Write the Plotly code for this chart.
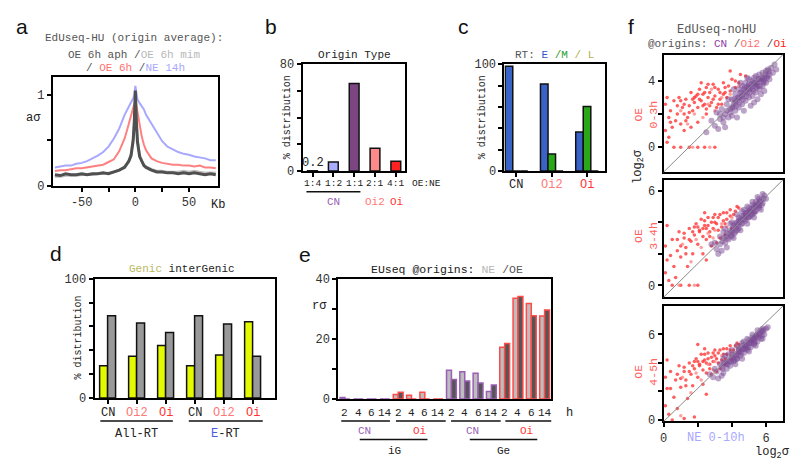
import plotly.graph_objects as go

W, H = 800, 475
MONO = "Liberation Mono, Courier New, monospace"
SANS = "Liberation Sans, Arial, sans-serif"

# ---------------- data ----------------
# a: EdUseq-HU origin average profiles
a_kb = [-75, -70, -65, -60, -55, -50, -45, -40, -35, -30, -25, -20, -15, -10, -8, -6, -4, -2, -1, 0,
        1, 2, 4, 6, 8, 10, 15, 20, 25, 30, 35, 40, 45, 50, 55, 60, 65, 70, 75]
a_ne14 = [0.20, 0.21, 0.22, 0.22, 0.24, 0.25, 0.27, 0.30, 0.33, 0.37, 0.43, 0.52, 0.63, 0.78, 0.83, 0.88, 0.92, 0.96, 1.00, 1.10,
          1.00, 0.95, 0.91, 0.88, 0.84, 0.78, 0.68, 0.58, 0.49, 0.43, 0.40, 0.37, 0.35, 0.34, 0.32, 0.31, 0.30, 0.28, 0.28]
a_oe6 = [0.16, 0.17, 0.17, 0.18, 0.19, 0.19, 0.20, 0.21, 0.22, 0.23, 0.26, 0.29, 0.38, 0.52, 0.60, 0.68, 0.78, 0.86, 0.90, 0.95,
         0.88, 0.80, 0.66, 0.54, 0.45, 0.39, 0.30, 0.27, 0.25, 0.24, 0.23, 0.23, 0.22, 0.22, 0.21, 0.22, 0.20, 0.20, 0.19]
a_mim = [0.10, 0.10, 0.11, 0.11, 0.11, 0.12, 0.12, 0.12, 0.13, 0.13, 0.14, 0.15, 0.17, 0.21, 0.24, 0.28, 0.35, 0.52, 0.68, 0.95,
         0.68, 0.50, 0.34, 0.27, 0.23, 0.21, 0.18, 0.16, 0.16, 0.15, 0.15, 0.15, 0.16, 0.15, 0.16, 0.15, 0.14, 0.14, 0.14]
a_aph = [0.12, 0.11, 0.13, 0.12, 0.12, 0.13, 0.12, 0.13, 0.13, 0.14, 0.13, 0.15, 0.17, 0.20, 0.23, 0.27, 0.33, 0.50, 0.70, 1.05,
         0.70, 0.48, 0.32, 0.26, 0.22, 0.20, 0.17, 0.15, 0.15, 0.14, 0.14, 0.13, 0.14, 0.13, 0.14, 0.13, 0.12, 0.13, 0.12]

# b: origin type
b_types = ["1:4", "1:2", "1:1", "2:1", "4:1"]
b_pct = [0.2, 6.8, 65.5, 17.0, 7.3]

# c: replication timing
c_groups = ["CN", "Oi2", "Oi"]
c_E = [98, 81.5, 36.5]
c_M = [0, 16, 60.5]
c_L = [0, 0, 0]

# d: genic / intergenic
d_groups = ["CN", "Oi2", "Oi", "CN", "Oi2", "Oi"]
d_genic = [27, 35, 44, 27, 36, 64]
d_inter = [69, 63, 55, 69, 62, 35]
d_sets = ["All-RT", "E-RT"]

# e: EUseq at origins
e_hours = ["2", "4", "6", "14"] * 4
e_origin = ["CN"] * 4 + ["Oi"] * 4 + ["CN"] * 4 + ["Oi"] * 4
e_region = ["iG", "Ge"]
e_ne = [0.5, 0, 0, 0, 1.5, 1.3, 2.3, 0, 9.6, 9.1, 8.6, 2.5, 17.2, 33.5, 31.8, 27.6]
e_oe = [0, 0, 0, 0, 2.3, 0, 0, 0, 6.5, 6.0, 5.3, 4.7, 18.5, 34.1, 27.7, 29.6]

# f: scatter (x = NE 0-10h log2 sigma, y = OE log2 sigma)
f1_cn_x = [3.0, 3.2, 3.3, 3.5, 3.6, 3.8, 3.9, 4.0, 4.1, 4.2, 4.3, 4.4, 4.5, 4.6, 4.7, 4.8, 4.9, 5.0, 5.1, 5.2, 5.3, 5.4, 5.5, 5.6, 5.7, 5.8, 5.9, 6.0, 6.1, 6.2, 6.4,
           3.4, 3.7, 4.0, 4.2, 4.4, 4.6, 4.8, 5.0, 5.2, 5.4, 5.6, 5.8, 6.0, 6.3, 4.1, 4.5, 4.9, 5.3, 5.7, 3.6, 4.3, 4.7, 5.1, 5.5, 5.9, 2.8, 3.1, 6.6, 5.0,
           4.5, 5.5, 4.2, 4.8, 5.3, 3.8, 2.5, 6.5,
           4.05, 4.15, 4.25, 4.35, 4.45, 4.55, 4.65, 4.75, 4.85, 4.95, 5.05, 5.15, 5.25, 5.35, 5.45, 5.55, 5.65, 5.75, 5.85, 5.95,
           6.05, 6.15, 4.4, 4.7, 5.0, 5.3, 5.6, 5.9, 6.2, 3.5, 3.9, 4.6, 5.2, 5.8, 3.3, 3.7, 4.9, 5.4, 6.1, 4.0]
f1_cn_y = [1.3, 1.1, 1.7, 1.5, 2.0, 1.8, 2.3, 1.9, 2.6, 2.2, 2.8, 2.4, 3.0, 2.6, 3.2, 2.8, 3.3, 3.0, 3.6, 3.1, 3.7, 3.3, 3.9, 3.5, 4.0, 3.7, 4.2, 3.9, 4.3, 4.1, 4.5,
           2.3, 2.6, 2.9, 3.2, 3.5, 3.7, 3.9, 4.1, 4.0, 4.3, 4.4, 4.5, 4.6, 4.8, 3.5, 3.9, 4.2, 2.7, 3.2, 1.2, 1.8, 2.2, 2.5, 2.9, 3.4, 1.6, 2.1, 4.7, 3.5,
           3.3, 3.7, 2.7, 3.4, 4.2, 2.9, 0.9, 5.0,
           2.4, 2.9, 2.5, 3.0, 2.7, 3.3, 2.9, 3.6, 3.1, 3.7, 3.3, 3.8, 3.4, 3.9, 3.6, 4.1, 3.7, 4.2, 3.9, 4.4,
           4.2, 4.6, 3.0, 3.5, 3.8, 3.9, 4.1, 4.0, 4.4, 1.8, 2.1, 3.1, 3.5, 4.1, 2.0, 2.2, 3.6, 3.8, 4.7, 2.4]
f1_oi_x = [0.1, 0.1, 0.2, 0.3, 0.4, 0.5, 0.6, 0.7, 0.8, 0.9, 1.0, 1.1, 1.2, 1.3, 1.4, 1.5, 1.6, 1.7, 1.8, 1.9, 2.0, 2.1, 2.2, 2.3, 2.4, 2.5, 2.6, 2.7, 2.8, 2.9,
           3.0, 3.2, 3.3, 3.5, 3.6, 3.8, 4.0, 4.2, 4.5, 4.8, 1.0, 1.5, 2.0, 2.4, 0.6, 3.0, 0.3, 1.2, 2.0, 2.5, 3.1, 3.4, 1.6, 0.2, 2.2, 3.9,
           1.2, 1.5, 1.8, 2.1, 2.4, 2.7, 3.0, 3.3, 3.6, 3.9, 4.2, 2.0, 2.6, 3.2, 3.7, 1.0, 1.7, 2.3, 2.9, 3.5, 0.4, 0.8, 4.4, 1.3, 2.5]
f1_oi_y = [1.0, 2.6, 0.3, 1.8, 2.2, 1.2, 2.8, 1.6, 2.0, 3.0, 1.4, 2.4, 2.0, 2.9, 1.8, 2.5, 3.3, 2.2, 2.7, 3.1, 2.4, 3.5, 2.8, 3.2, 2.6, 3.6, 3.0, 3.3, 2.7, 3.8,
           3.1, 3.5, 2.9, 3.9, 3.3, 3.7, 4.1, 3.6, 4.4, 4.3, 0.0, 0.0, 0.0, 0.0, 0.0, 0.0, 0.6, 1.0, 1.5, 2.0, 2.4, 2.6, 1.2, 3.0, 3.9, 4.6,
           2.6, 2.1, 3.0, 2.9, 3.3, 2.5, 3.6, 3.3, 3.6, 3.4, 4.0, 3.2, 3.8, 2.6, 3.0, 2.8, 2.9, 2.5, 2.9, 3.2, 1.5, 2.5, 3.9, 1.6, 2.3]
f1_oi2_x = [1.0, 1.8, 2.6, 3.4, 3.9, 4.4, 2.3, 3.0, 1.4, 2.8, 1.7, 2.7]
f1_oi2_y = [2.2, 2.0, 2.6, 3.0, 3.2, 3.7, 1.8, 2.2, 1.4, 3.5, 0.0, 0.0]

f2_cn_x = [3.1, 3.3, 3.4, 3.5, 3.6, 3.7, 3.8, 3.9, 4.0, 4.1, 4.2, 4.3, 4.4, 4.5, 4.6, 4.7, 4.8, 4.9, 5.0, 5.1, 5.2, 5.3, 5.4, 5.5, 5.6, 5.7, 5.8, 5.9,
           3.6, 4.0, 4.3, 4.6, 4.9, 5.2, 5.5, 4.1, 4.5, 4.9, 5.3, 5.7, 3.3, 3.0, 6.0, 4.4, 4.8, 5.1, 5.4, 3.9, 4.2, 5.0, 2.8, 3.2, 5.6, 4.7, 3.7,
           3.45, 3.65, 3.85, 4.05, 4.25, 4.45, 4.65, 4.85, 5.05, 5.25, 5.45, 5.65, 5.85, 4.15, 4.35, 4.55, 4.75, 4.95,
           5.15, 5.35, 5.55, 5.75, 3.75, 3.95, 4.6, 5.0, 5.4, 5.8, 3.5, 4.3, 4.8, 5.2, 5.6, 4.0, 4.4, 5.3]
f2_cn_y = [2.3, 2.6, 2.2, 3.0, 2.7, 3.3, 2.9, 3.5, 3.1, 3.8, 3.4, 4.0, 3.6, 4.2, 3.9, 4.4, 4.1, 4.6, 4.3, 4.8, 4.5, 5.0, 4.7, 5.2, 4.9, 5.4, 5.2, 5.7,
           3.6, 4.0, 4.5, 4.7, 5.0, 5.3, 5.6, 3.0, 3.5, 3.9, 4.3, 4.8, 3.1, 2.7, 5.5, 4.3, 4.5, 4.4, 5.0, 3.9, 3.9, 4.7, 2.6, 2.0, 5.5, 4.8, 2.4,
           2.8, 3.1, 3.3, 3.6, 3.7, 4.0, 4.2, 4.4, 4.7, 4.9, 5.1, 5.3, 5.5, 3.3, 3.8, 3.9, 4.2, 4.3,
           4.6, 4.7, 5.0, 5.1, 3.0, 3.2, 4.4, 4.9, 5.3, 5.8, 3.4, 3.5, 4.6, 5.1, 5.1, 3.4, 4.1, 4.6]
f2_oi_x = [0.1, 0.1, 0.2, 0.3, 0.5, 0.6, 0.8, 0.9, 1.0, 1.2, 1.3, 1.5, 1.6, 1.8, 1.9, 2.0, 2.1, 2.2, 2.3, 2.4, 2.5, 2.6, 2.7, 2.8, 2.9, 3.0, 3.1, 3.2,
           3.4, 3.5, 3.7, 3.9, 4.1, 4.3, 0.5, 1.0, 1.5, 2.0, 2.5, 1.4, 0.7, 2.3, 3.3, 1.7, 2.8, 3.6, 4.0, 0.2, 2.4, 3.1,
           1.2, 1.5, 1.8, 2.1, 2.4, 2.7, 3.0, 3.3, 3.6, 3.9, 4.2, 2.0, 2.6, 3.2, 3.7, 1.0, 1.7, 2.3, 2.9, 3.5, 0.4, 0.8, 4.4, 1.3, 2.5]
f2_oi_y = [0.8, 2.5, 1.6, 0.3, 2.9, 1.2, 2.2, 3.4, 1.8, 3.0, 2.4, 3.6, 2.8, 3.2, 3.9, 2.6, 3.5, 4.2, 3.1, 3.8, 2.9, 4.3, 3.4, 4.0, 3.6, 4.5, 3.9, 4.3,
           3.7, 4.6, 4.2, 4.8, 4.5, 5.0, 0.0, 0.0, 0.0, 0.0, 1.6, 1.2, 0.5, 2.0, 3.0, 2.0, 2.5, 3.2, 3.6, 3.8, 4.6, 2.7,
           3.3, 2.9, 3.7, 3.4, 4.1, 3.1, 4.0, 4.5, 3.9, 4.4, 4.7, 3.7, 3.8, 3.5, 4.6, 2.5, 3.4, 3.6, 4.3, 4.1, 1.9, 2.9, 4.9, 2.0, 3.6]
f2_oi2_x = [1.1, 1.9, 2.6, 3.4, 4.0, 2.2, 2.9, 1.6, 3.7, 0.9, 1.8, 3.0]
f2_oi2_y = [2.6, 2.9, 3.3, 3.9, 4.3, 2.4, 3.0, 1.5, 3.7, 0.0, 0.0, 3.5]

f3_cn_x = [2.9, 3.1, 3.2, 3.4, 3.5, 3.6, 3.7, 3.8, 3.9, 4.0, 4.1, 4.2, 4.3, 4.4, 4.5, 4.6, 4.7, 4.8, 4.9, 5.0, 5.1, 5.2, 5.3, 5.4, 5.5, 5.6, 5.7, 5.8, 5.9, 6.0,
           3.6, 4.0, 4.3, 4.6, 4.9, 5.2, 5.5, 4.2, 4.6, 5.0, 5.4, 5.8, 3.3, 3.0, 6.1, 4.4, 4.8, 5.1, 5.3, 3.8, 2.7, 3.4, 5.7, 4.7, 3.5,
           3.45, 3.65, 3.85, 4.05, 4.25, 4.45, 4.65, 4.85, 5.05, 5.25, 5.45, 5.65, 5.85, 4.15, 4.35, 4.55, 4.75, 4.95,
           5.15, 5.35, 5.55, 5.75, 3.75, 3.95, 4.6, 5.0, 5.4, 5.8, 3.5, 4.3, 4.8, 5.2, 5.6, 4.0, 4.4, 5.3]
f3_cn_y = [3.0, 3.4, 2.9, 3.7, 3.3, 4.0, 3.6, 4.2, 3.8, 4.4, 4.1, 4.6, 4.3, 4.8, 4.5, 5.0, 4.7, 5.2, 4.9, 5.4, 5.1, 5.6, 5.3, 5.8, 5.5, 6.0, 5.7, 6.2, 6.0, 6.4,
           4.5, 4.9, 5.2, 5.4, 5.7, 6.0, 6.3, 3.9, 4.3, 4.8, 5.2, 5.7, 3.9, 3.6, 6.5, 5.0, 5.0, 5.5, 5.7, 4.6, 3.2, 3.1, 6.3, 5.5, 4.3,
           3.6, 3.9, 4.1, 4.3, 4.5, 4.8, 5.0, 5.2, 5.4, 5.7, 5.9, 6.1, 6.3, 4.2, 4.6, 4.7, 5.0, 5.1,
           5.4, 5.5, 5.8, 5.9, 3.9, 4.1, 5.2, 5.6, 5.9, 6.4, 4.0, 4.3, 5.3, 5.8, 6.0, 4.6, 4.9, 5.4]
f3_oi_x = [0.1, 0.1, 0.2, 0.3, 0.4, 0.6, 0.7, 0.9, 1.0, 1.2, 1.3, 1.5, 1.6, 1.8, 1.9, 2.0, 2.1, 2.2, 2.3, 2.4, 2.5, 2.6, 2.7, 2.8, 2.9, 3.0, 3.1, 3.2,
           3.4, 3.5, 3.7, 3.9, 4.1, 4.3, 0.5, 1.2, 1.8, 2.5, 1.4, 0.8, 2.3, 3.3, 1.7, 2.8, 3.6, 4.0, 0.2, 2.4, 3.1, 2.0,
           1.2, 1.5, 1.8, 2.1, 2.4, 2.7, 3.0, 3.3, 3.6, 3.9, 4.2, 2.0, 2.6, 3.2, 3.7, 1.0, 1.7, 2.3, 2.9, 3.5, 0.4, 0.8, 4.4, 1.3, 2.5]
f3_oi_y = [1.0, 3.0, 2.2, 0.4, 3.4, 1.6, 2.8, 3.8, 2.3, 3.4, 2.8, 4.0, 3.2, 3.6, 4.3, 3.0, 3.9, 4.6, 3.5, 4.2, 3.3, 4.7, 3.9, 4.4, 4.1, 4.9, 4.3, 4.7,
           4.2, 5.0, 4.6, 5.2, 4.9, 5.4, 0.0, 0.1, 0.2, 1.8, 1.5, 0.8, 2.5, 3.6, 2.4, 3.2, 3.9, 4.3, 4.2, 5.0, 3.4, 5.3,
           3.7, 3.4, 4.1, 3.8, 4.6, 3.6, 4.5, 4.9, 4.3, 4.9, 5.2, 4.1, 4.3, 4.0, 5.0, 2.9, 3.8, 4.1, 4.7, 4.6, 2.2, 3.2, 5.3, 2.4, 4.0]
f3_oi2_x = [1.1, 1.9, 2.6, 3.4, 4.0, 2.2, 2.9, 1.6, 3.7, 1.0, 3.0, 4.4]
f3_oi2_y = [3.0, 3.3, 3.9, 4.5, 4.7, 2.8, 3.5, 1.9, 4.2, 0.3, 4.1, 5.0]

# ---------------- colours ----------------
DG = "#555555"
LG = "#b8b8b8"
RED_L = "#ff7070"
BLUE_L = "#a8a8ff"
CN_C = "#9a5fb5"
OI2_C = "#ff7878"
OI_C = "#ff3535"
TXT = "#333333"

fig = go.Figure()

# ---- a ----
for ys, col, w in [(a_ne14, BLUE_L, 2), (a_oe6, "#ff8080", 2), (a_mim, "#c0c0c0", 2.5), (a_aph, "#505050", 3)]:
    fig.add_trace(go.Scatter(x=a_kb, y=ys, mode="lines", line=dict(color=col, width=w), xaxis="x", yaxis="y"))

# ---- b ----
b_idx = list(range(len(b_types)))
fig.add_trace(go.Bar(x=b_idx, y=b_pct, width=0.47,
                     marker=dict(color=["#ffffff", "#a9acff", "#7b4682", "#ff8a8a", "#ff2222"],
                                 line=dict(color="#111", width=1.5)),
                     xaxis="x2", yaxis="y2"))

# ---- c ----
c_idx = list(range(len(c_groups)))
for vals, col, off in [(c_E, "#3a63c8", -0.32), (c_M, "#2aa81a", -0.107), (c_L, "#b8b860", 0.107)]:
    fig.add_trace(go.Bar(x=c_idx, y=vals, width=0.215, offset=off,
                         marker=dict(color=col, line=dict(color="#111", width=1.5)),
                         xaxis="x3", yaxis="y3"))

# ---- d ----
d_idx = list(range(len(d_groups)))
for vals, col, off in [(d_genic, "#e4fa00", -0.275), (d_inter, "#999999", 0.0)]:
    fig.add_trace(go.Bar(x=d_idx, y=vals, width=0.275, offset=off,
                         marker=dict(color=col, line=dict(color="#111", width=1.5)),
                         xaxis="x4", yaxis="y4"))

# ---- e ----
e_idx = list(range(len(e_hours)))
e_border = [CN_C if o == "CN" else "#ff4a4a" for o in e_origin]
for vals, col, off in [(e_ne, "#bdbdbd", -0.37), (e_oe, "#555555", 0.0)]:
    fig.add_trace(go.Bar(x=e_idx, y=vals, width=0.37, offset=off,
                         marker=dict(color=col, line=dict(color=e_border, width=1.5)),
                         xaxis="x5", yaxis="y5"))

# ---- f ----
for k, (oix, oiy, o2x, o2y, cnx, cny) in enumerate([
        (f1_oi_x, f1_oi_y, f1_oi2_x, f1_oi2_y, f1_cn_x, f1_cn_y),
        (f2_oi_x, f2_oi_y, f2_oi2_x, f2_oi2_y, f2_cn_x, f2_cn_y),
        (f3_oi_x, f3_oi_y, f3_oi2_x, f3_oi2_y, f3_cn_x, f3_cn_y)]):
    xa, ya = f"x{6 + k}", f"y{6 + k}"
    fig.add_trace(go.Scatter(x=oix, y=oiy, mode="markers", marker=dict(color="#ff2a2a", size=3.5, opacity=0.75),
                             xaxis=xa, yaxis=ya))
    fig.add_trace(go.Scatter(x=o2x, y=o2y, mode="markers", marker=dict(color="#ff8080", size=3.5, opacity=0.75),
                             xaxis=xa, yaxis=ya))
    fig.add_trace(go.Scatter(x=cnx, y=cny, mode="markers", marker=dict(color="#7a4a94", size=6, opacity=0.5),
                             xaxis=xa, yaxis=ya))


# ---------------- axes ----------------
def ax(**kw):
    d = dict(showline=True, linecolor="black", linewidth=2, mirror=True, ticks="outside", ticklen=4,
             tickwidth=1.5, tickcolor="black", showgrid=False, zeroline=False, fixedrange=True,
             tickfont=dict(family=MONO, size=12, color=TXT))
    d.update(kw)
    return d


def xd(a, b):
    return [a / W, b / W]


def yd(top, bot):
    return [1 - bot / H, 1 - top / H]


layout = dict(
    xaxis=ax(domain=xd(49, 215), anchor="y", range=[-77, 77], tickvals=[-50, -25, 0, 25, 50],
             ticktext=["-50", "", "0", "", "50"]),
    yaxis=ax(domain=yd(73, 185), anchor="x", range=[0, 1.2], tickvals=[0, 0.5, 1], ticktext=["0", "", "1"]),
    xaxis2=ax(domain=xd(300, 403), anchor="y2", range=[-0.48, 4.44], tickvals=b_idx, showticklabels=False),
    yaxis2=ax(domain=yd(60, 170), anchor="x2", range=[0, 80], tickvals=[0, 20, 40, 60, 80],
              ticktext=["0", "", "", "", "80"]),
    xaxis3=ax(domain=xd(503, 604), anchor="y3", range=[-0.34, 2.51], tickvals=c_idx, showticklabels=False),
    yaxis3=ax(domain=yd(60, 170), anchor="x3", range=[0, 100], tickvals=[0, 20, 40, 60, 80, 100],
              ticktext=["0", "", "", "", "", "100"]),
    xaxis4=ax(domain=xd(91, 272), anchor="y4", range=[-0.45, 5.76], tickvals=d_idx, showticklabels=False),
    yaxis4=ax(domain=yd(281, 404), anchor="x4", range=[0, 100], tickvals=[0, 20, 40, 60, 80, 100],
              ticktext=["0", "", "", "", "", "100"]),
    xaxis5=ax(domain=xd(336, 550), anchor="y5", range=[-0.5, 15.5], ticks="", showticklabels=False),
    yaxis5=ax(domain=yd(281, 405), anchor="x5", range=[0, 40], tickvals=[0, 10, 20, 30, 40],
              ticktext=["0", "", "20", "", "40"]),
    xaxis6=ax(domain=xd(663, 783), anchor="y6", range=[0, 7], ticks="", showticklabels=False),
    yaxis6=ax(domain=yd(50, 171), anchor="x6", range=[-1.5, 5.6], tickvals=[0, 2, 4], ticktext=["0", "", "4"]),
    xaxis7=ax(domain=xd(663, 783), anchor="y7", range=[0, 7], ticks="", showticklabels=False),
    yaxis7=ax(domain=yd(179, 300), anchor="x7", range=[-0.75, 6.7], tickvals=[0, 2, 4, 6],
              ticktext=["0", "", "", "6"]),
    xaxis8=ax(domain=xd(663, 783), anchor="y8", range=[0, 7], tickvals=[0, 2, 4, 6], ticktext=["0", "", "", "6"]),
    yaxis8=ax(domain=yd(309, 428), anchor="x8", range=[-0.1, 8], tickvals=[0, 2, 4, 6],
              ticktext=["0", "", "", "6"]),
)

# ---------------- annotations ----------------
anns = []


def T(x, y, text, size=11, color=TXT, xref="paper", family=MONO, xanchor="center", angle=0):
    if xref == "paper":
        x = x / W
    anns.append(dict(x=x, y=1 - y / H, xref=xref, yref="paper", text=text, showarrow=False,
                     font=dict(family=family, size=size, color=color), xanchor=xanchor, yanchor="middle",
                     textangle=angle))


def sp(t, c):
    return f"<span style='color:{c}'>{t}</span>"


# panel letters
for lx, ly, L in [(18, 21, "a"), (268, 21, "b"), (462, 21, "c"), (630, 21, "f"), (52, 255, "d"), (303, 256, "e")]:
    T(lx, ly, L, size=21, color="#111", family=SANS)

# a
T(131, 33, "EdUseq-HU (origin average):", 11, DG)
T(131, 51, sp("OE 6h aph /", DG) + sp("OE 6h mim", LG), 11)
T(132, 64, sp("/ ", DG) + sp("OE 6h", RED_L) + sp(" /", DG) + sp("NE 14h", BLUE_L), 11)
T(30, 115, "aσ", 12, "#222")
T(215, 205, "Kb", 12, "#222")

# b
T(352, 50, "Origin Type", 11, "#222")
T(285, 115, "% distribution", 10, "#222", angle=-90)
for i, t in enumerate(b_types):
    T(i, 183, t, 9.5, "#222", xref="x2")
T(408, 183, "OE:NE", 9.5, "#222", xanchor="left")
T(0, 162, "0.2", 12, "#222", xref="x2")
T(1, 202, "CN", 11, CN_C, xref="x2")
T(3, 202, "Oi2", 11, OI2_C, xref="x2")
T(4.07, 202, "Oi", 11, OI_C, xref="x2")

# c
T(553, 50, "RT: " + sp("E", "#3355cc") + " " + sp("/M", "#2e9e2e") + " " + sp("/ L", "#b4b050"), 11, DG)
T(481, 115, "% distribution", 10, "#222", angle=-90)
for i, (t, col) in enumerate(zip(c_groups, ["#222", OI2_C, OI_C])):
    T(i, 184, t, 12, col, xref="x3")

# d
T(179, 271, sp("Genic", "#b8b860") + " interGenic", 11, "#222")
T(75, 342, "% distribution", 10, "#222", angle=-90)
for i, t in enumerate(d_groups):
    col = {"CN": "#222", "Oi2": OI2_C, "Oi": OI_C}[t]
    T(i, 419, t, 12, col, xref="x4")
T(1.0, 441, d_sets[0], 12, "#222", xref="x4")
T(4.05, 441, sp("E", "#4a5ae8") + "-RT", 12, "#222", xref="x4")

# e
T(445, 271, "EUseq @origins: " + sp("NE", LG) + sp(" /OE", DG), 11.5, "#222")
T(317, 309, "rσ", 12, "#222")
for i, t in enumerate(e_hours):
    T(i, 419, t, 11, "#222", xref="x5")
T(568, 419, "h", 12, "#222")
for cx, t in [(1.5, "CN"), (5.6, "Oi"), (9.6, "CN"), (13.7, "Oi")]:
    T(cx, 438, t, 11, CN_C if t == "CN" else OI_C, xref="x5")
T(3.7, 458, e_region[0], 11, "#222", xref="x5")
T(11.9, 458, e_region[1], 11, "#222", xref="x5")

# f
T(716, 25, "EdUseq-noHU", 12, DG)
T(717, 39, "@origins: " + sp("CN", "#9040a8") + sp(" /", DG) + sp("Oi2", "#ff7070") + sp(" /", DG) + sp("Oi", "#ff2020"), 11, DG)
for yy, lab in [(112, "OE<br>0-3h"), (237, "OE<br>3-4h"), (377, "OE<br>4-5h")]:
    T(645, yy, lab, 11.5, "#ff6060", angle=-90)
T(638, 165, "log<sub>2</sub>σ", 12, "#222", angle=-90)
T(716, 445, "NE 0-10h", 12, BLUE_L)
T(772, 461, "log<sub>2</sub>σ", 12, "#222")

# ---------------- shapes ----------------
shapes = []


def hline(xref, x0, x1, y):
    if xref == "paper":
        x0, x1 = x0 / W, x1 / W
    shapes.append(dict(type="line", xref=xref, yref="paper", x0=x0, x1=x1, y0=1 - y / H, y1=1 - y / H,
                       line=dict(color="#111", width=1.5)))


hline("x2", -0.29, 2.3, 191.5)
hline("x4", -0.25, 2.25, 427.5)
hline("x4", 2.8, 5.35, 427.5)
for x0, x1 in [(-0.28, 3.38), (3.83, 7.57), (7.97, 11.7), (12.05, 15.8)]:
    hline("x5", x0, x1, 427.7)
for x0, x1 in [(1.11, 6.2), (9.38, 14.45)]:
    hline("x5", x0, x1, 446.7)
for k in range(3):
    shapes.append(dict(type="line", xref=f"x{6 + k} domain", yref=f"y{6 + k} domain", x0=0, y0=0, x1=1, y1=1,
                       line=dict(color="#8a8a8a", width=1), layer="above"))

fig.update_layout(**layout)
fig.update_layout(annotations=anns, shapes=shapes, showlegend=False, barmode="overlay",
                  width=W, height=H, margin=dict(l=0, r=0, t=0, b=0),
                  plot_bgcolor="white", paper_bgcolor="white")

fig.write_html("out.html", config={"displayModeBar": False},
               post_script="document.body.style.margin='0px';document.body.style.overflow='hidden';")
